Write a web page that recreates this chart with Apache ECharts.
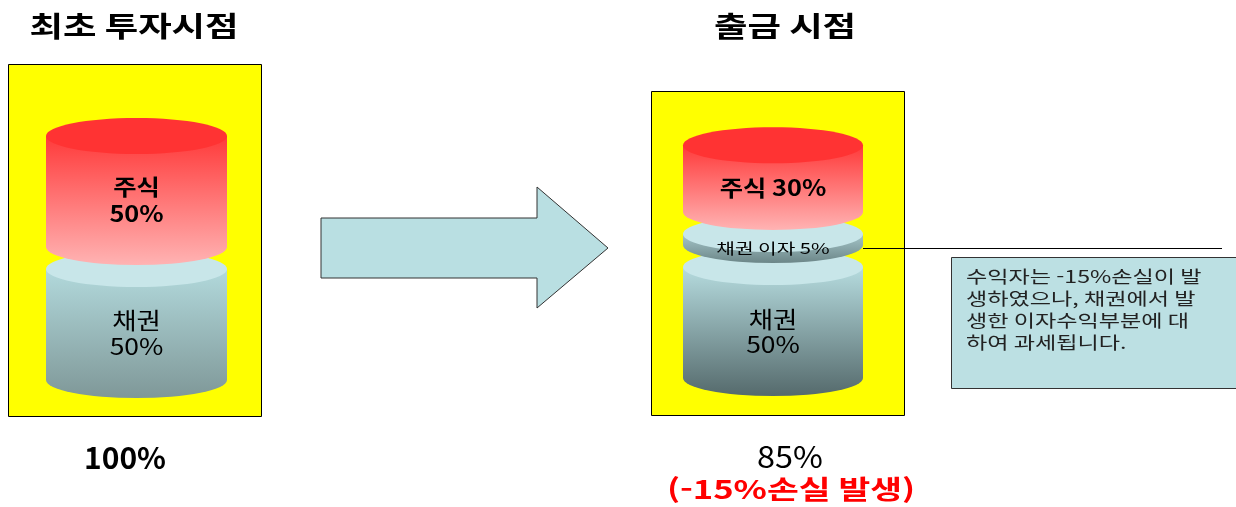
<!DOCTYPE html>
<html lang="ko">
<head>
    <meta charset="UTF-8">
    <title>최초 투자시점 / 출금 시점</title>
    <script src="https://cdn.jsdelivr.net/npm/echarts@6/dist/echarts.min.js"></script>
    <style>
        html, body { margin: 0; padding: 0; background: #fff; }
        #chart { width: 1236px; height: 507px; }
    </style>
</head>
<body>
<div id="chart"></div>
<script>
    // 데이터 (아래에서 위로 쌓이는 순서)
    const leftKinds = ['bond', 'stock'];
    const leftValues = [50, 50];
    const leftLabels = ['채권\n50%', '주식\n50%'];

    const rightKinds = ['bond', 'interest', 'stock'];
    const rightValues = [50, 5, 30];
    const rightLabels = ['채권\n50%', '채권 이자 5%', '주식 30%'];

    const titles = ['최초 투자시점', '출금 시점'];
    const totals = ['100%', '85%'];
    const lossText = '(-15%손실 발생)';
    const noteText = '수익자는 -15%손실이 발\n생하였으나, 채권에서 발\n생한 이자수익부분에 대\n하여 과세됩니다.';

    const FONT = '"Noto Sans CJK KR", "Noto Sans", sans-serif';
    const GAP = 22;   // 원통 사이 간격(px)
    const RY = 18;    // 타원 세로 반지름

    // 종류별 스타일
    const kindStyle = {
        stock: { cap: '#ff3333', top: '#ff3a3a', bottom: '#ffb3b3', font: 'bold 22px', lh: 27, sx: 1.15 },
        bond: { cap: '#c8e6e9', top: '#b2d9dc', bottom: '#7f9898', font: '23px', lh: 26, sx: 1.15 },
        bondDark: { cap: '#c8e6e9', top: '#b6dcdf', bottom: '#556a6c', font: '23px', lh: 25, sx: 1.15 },
        interest: { cap: '#c8e6e9', top: '#a5c6c9', bottom: '#6c8688', font: '15px', lh: 16, sx: 1.35 }
    };

    function buildData(values, labels, kinds, dark) {
        let acc = 0;
        return values.map((v, i) => {
            const item = { value: [0, acc, acc + v, i], label: labels[i], kind: (dark && kinds[i] === 'bond') ? 'bondDark' : kinds[i] };
            acc += v;
            return item;
        });
    }

    function makeRender(items) {
        return function (params, api) {
            const cs = params.coordSys;
            const idx = api.value(3);
            const it = items[params.dataIndex];
            const st = kindStyle[it.kind];
            const yBot = api.coord([0, api.value(1)])[1] - idx * GAP;
            const yTop = api.coord([0, api.value(2)])[1] - idx * GAP;
            const x = cs.x, w = cs.width, rx = w / 2;
            const body = 'M' + x + ' ' + yTop + ' L' + x + ' ' + yBot +
                ' A' + rx + ' ' + RY + ' 0 0 0 ' + (x + w) + ' ' + yBot +
                ' L' + (x + w) + ' ' + yTop + ' Z';
            return {
                type: 'group',
                children: [
                    {
                        type: 'path',
                        shape: { pathData: body },
                        style: {
                            fill: {
                                type: 'linear', x: 0, y: 0, x2: 0, y2: 1,
                                colorStops: [{ offset: 0, color: st.top }, { offset: 1, color: st.bottom }]
                            }
                        }
                    },
                    {
                        type: 'ellipse',
                        shape: { cx: x + rx, cy: yTop, rx: rx, ry: RY },
                        style: { fill: st.cap }
                    },
                    {
                        type: 'text',
                        x: x + rx,
                        y: (yTop + yBot) / 2 + RY * 0.5,
                        scaleX: st.sx,
                        style: {
                            text: it.label,
                            x: 0,
                            y: 0,
                            align: 'center',
                            verticalAlign: 'middle',
                            font: st.font + ' ' + FONT,
                            lineHeight: st.lh,
                            fill: '#000'
                        }
                    }
                ]
            };
        };
    }

    const leftData = buildData(leftValues, leftLabels, leftKinds, false);
    const rightData = buildData(rightValues, rightLabels, rightKinds, true);

    const chart = echarts.init(document.getElementById('chart'), null, { renderer: 'canvas' });

    const option = {
        backgroundColor: '#ffffff',
        animation: false,
        grid: [
            { left: 46, width: 181, top: 158, height: 222 },
            { left: 683, width: 180, top: 156, height: 222 }
        ],
        xAxis: [
            { type: 'category', data: ['a'], gridIndex: 0, show: false },
            { type: 'category', data: ['a'], gridIndex: 1, show: false }
        ],
        yAxis: [
            { type: 'value', min: 0, max: 100, gridIndex: 0, show: false },
            { type: 'value', min: 0, max: 100, gridIndex: 1, show: false }
        ],
        series: [
            {
                type: 'custom', xAxisIndex: 0, yAxisIndex: 0, z: 5,
                renderItem: makeRender(leftData),
                data: leftData.map(d => d.value)
            },
            {
                type: 'custom', xAxisIndex: 1, yAxisIndex: 1, z: 5,
                renderItem: makeRender(rightData),
                data: rightData.map(d => d.value)
            }
        ],
        graphic: [
            // 노란 상자
            { type: 'rect', z: 0, shape: { x: 8.5, y: 64.5, width: 253, height: 352 },
              style: { fill: '#ffff00', stroke: '#000', lineWidth: 1 } },
            { type: 'rect', z: 0, shape: { x: 651.5, y: 91.5, width: 253, height: 324 },
              style: { fill: '#ffff00', stroke: '#000', lineWidth: 1 } },
            // 제목
            { type: 'text', z: 10, x: 134, y: 26, scaleX: 1.3,
              style: { text: titles[0], font: 'bold 28px ' + FONT, fill: '#000', align: 'center', verticalAlign: 'middle' } },
            { type: 'text', z: 10, x: 785, y: 26, scaleX: 1.3,
              style: { text: titles[1], font: 'bold 28px ' + FONT, fill: '#000', align: 'center', verticalAlign: 'middle' } },
            // 화살표
            { type: 'polygon', z: 10,
              shape: { points: [[321, 218], [537, 218], [537, 187], [608, 248], [537, 308], [537, 278], [321, 278]] },
              style: { fill: '#b9dfe2', stroke: '#333', lineWidth: 1 } },
            // 설명선
            { type: 'line', z: 10, shape: { x1: 863, y1: 248.5, x2: 1222, y2: 248.5 },
              style: { stroke: '#000', lineWidth: 1 } },
            { type: 'rect', z: 10, shape: { x: 951.5, y: 257.5, width: 290, height: 131 },
              style: { fill: '#bce0e3', stroke: '#333', lineWidth: 1 } },
            { type: 'text', z: 11, x: 966, y: 266, scaleX: 1.36,
              style: { text: noteText, font: '17px ' + FONT, lineHeight: 22, fill: '#222', align: 'left', verticalAlign: 'top' } },
            // 하단 수치
            { type: 'text', z: 10, x: 125, y: 458,
              style: { text: totals[0], font: 'bold 30px ' + FONT, fill: '#000', align: 'center', verticalAlign: 'middle' } },
            { type: 'text', z: 10, x: 790, y: 457, scaleX: 1.08,
              style: { text: totals[1], font: '30px ' + FONT, fill: '#000', align: 'center', verticalAlign: 'middle' } },
            { type: 'text', z: 10, x: 791, y: 489, scaleX: 1.33,
              style: { text: lossText, font: 'bold 26px ' + FONT, fill: '#ff0000', align: 'center', verticalAlign: 'middle' } }
        ]
    };

    chart.setOption(option);
</script>
</body>
</html>
